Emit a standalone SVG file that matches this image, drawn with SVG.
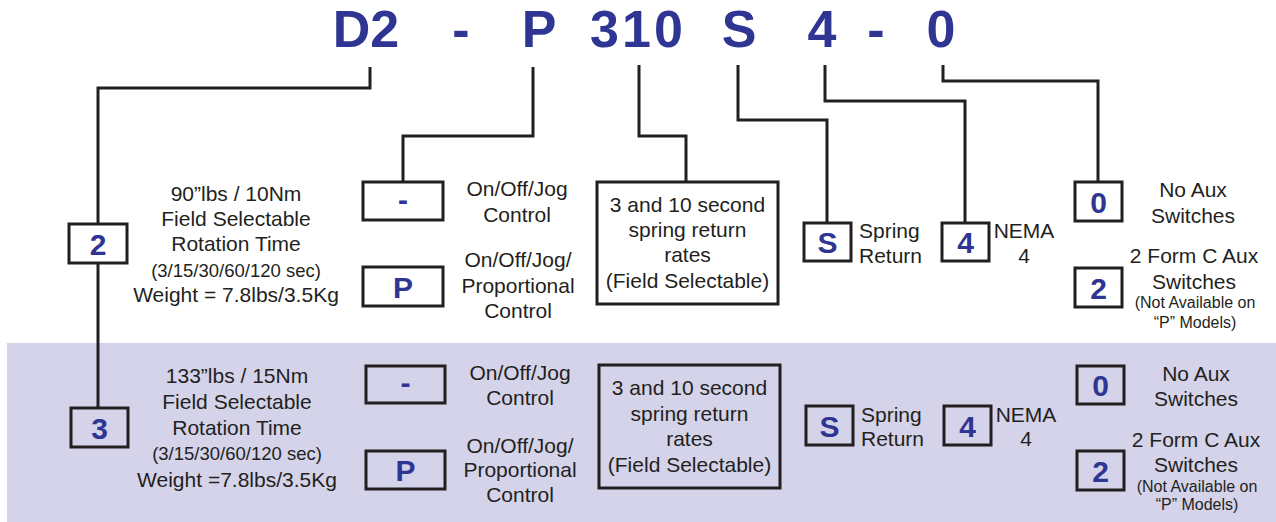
<svg xmlns="http://www.w3.org/2000/svg" width="1276" height="522" viewBox="0 0 1276 522">
<style>
.t{font-family:"Liberation Sans",Arial,sans-serif;font-size:21px;fill:#231f20;text-anchor:middle}
.s{font-size:18.5px}
.xs{font-size:16px}
.l{text-anchor:start}
.b{font-family:"Liberation Sans",Arial,sans-serif;font-weight:bold;font-size:30px;fill:#2e3592;text-anchor:middle}
.title{font-family:"Liberation Sans",Arial,sans-serif;font-weight:bold;font-size:52px;fill:#2e3592;text-anchor:middle}
.box{fill:none;stroke:#231f20;stroke-width:3}
.c{fill:none;stroke:#231f20;stroke-width:3}
</style>
<rect x="7" y="343" width="1269" height="179" fill="#d4d3e9"/>
<g id="title">
<text class="title" x="366" y="47">D2</text>
<text class="title" x="461" y="47">-</text>
<text class="title" x="539" y="47">P</text>
<text class="title" x="638" y="47" letter-spacing="3">310</text>
<text class="title" x="739" y="47">S</text>
<text class="title" x="822" y="47">4</text>
<text class="title" x="876" y="47">-</text>
<text class="title" x="941" y="47">0</text>
</g>
<g id="connectors">
<path class="c" d="M370,67 V88 H98 V224"/>
<path class="c" d="M98,263 V408"/>
<path class="c" d="M533,67 V136 H403 V182"/>
<path class="c" d="M639,65 V136 H686 V182"/>
<path class="c" d="M738,65 V120 H827 V223"/>
<path class="c" d="M825,65 V101 H965 V223"/>
<path class="c" d="M943,65 V81 H1098 V182"/>
</g>
<g id="size2">
<rect class="box" x="69" y="224" width="58" height="39"/>
<text class="b" x="98" y="254.5">2</text>
<text class="t" x="236" y="200.5">90”lbs / 10Nm</text>
<text class="t" x="236" y="226">Field Selectable</text>
<text class="t" x="236" y="251">Rotation Time</text>
<text class="t s" x="236" y="276.5">(3/15/30/60/120 sec)</text>
<text class="t" x="236" y="302">Weight = 7.8lbs/3.5Kg</text>
</g>
<g id="ctrl-dash-top">
<rect class="box" x="363" y="182" width="80" height="38"/>
<text class="b" x="403" y="210">-</text>
<text class="t" x="517" y="196">On/Off/Jog</text>
<text class="t" x="517" y="222">Control</text>
</g>
<g id="ctrl-p-top">
<rect class="box" x="363" y="267" width="80" height="39"/>
<text class="b" x="403" y="297.5">P</text>
<text class="t" x="518" y="267">On/Off/Jog/</text>
<text class="t" x="518" y="293">Proportional</text>
<text class="t" x="518" y="318">Control</text>
</g>
<g id="rates-top">
<rect class="box" x="597" y="182" width="181" height="122"/>
<text class="t" x="687.5" y="212">3 and 10 second</text>
<text class="t" x="687.5" y="237">spring return</text>
<text class="t" x="687.5" y="262">rates</text>
<text class="t" x="687.5" y="288">(Field Selectable)</text>
</g>
<g id="spring-top">
<rect class="box" x="804" y="223" width="47" height="38"/>
<text class="b" x="827.5" y="253">S</text>
<text class="t l" x="859" y="238">Spring</text>
<text class="t l" x="859" y="263">Return</text>
</g>
<g id="nema-top">
<rect class="box" x="942" y="223" width="47" height="38"/>
<text class="b" x="965.5" y="253">4</text>
<text class="t" x="1024" y="238">NEMA</text>
<text class="t" x="1024" y="263">4</text>
</g>
<g id="aux0-top">
<rect class="box" x="1075" y="182" width="47" height="39"/>
<text class="b" x="1098.5" y="212.5">0</text>
<text class="t" x="1193" y="197">No Aux</text>
<text class="t" x="1193" y="223">Switches</text>
</g>
<g id="aux2-top">
<rect class="box" x="1075" y="268" width="47" height="39"/>
<text class="b" x="1098.5" y="298.5">2</text>
<text class="t" x="1194" y="263">2 Form C Aux</text>
<text class="t" x="1194" y="289">Switches</text>
<text class="t xs" x="1195" y="308">(Not Available on</text>
<text class="t xs" x="1195" y="328">“P” Models)</text>
</g>
<g id="size3">
<rect class="box" x="71" y="408" width="57" height="39"/>
<text class="b" x="99.5" y="438.5">3</text>
<text class="t" x="237" y="383">133”lbs / 15Nm</text>
<text class="t" x="237" y="409">Field Selectable</text>
<text class="t" x="237" y="435">Rotation Time</text>
<text class="t s" x="237" y="460">(3/15/30/60/120 sec)</text>
<text class="t" x="237" y="487">Weight =7.8lbs/3.5Kg</text>
</g>
<g id="ctrl-dash-bottom">
<rect class="box" x="366" y="366" width="79" height="37"/>
<text class="b" x="405.5" y="393">-</text>
<text class="t" x="520" y="380">On/Off/Jog</text>
<text class="t" x="520" y="405">Control</text>
</g>
<g id="ctrl-p-bottom">
<rect class="box" x="366" y="451" width="79" height="38"/>
<text class="b" x="405.5" y="481">P</text>
<text class="t" x="520" y="453">On/Off/Jog/</text>
<text class="t" x="520" y="477">Proportional</text>
<text class="t" x="520" y="502">Control</text>
</g>
<g id="rates-bottom">
<rect class="box" x="599" y="365" width="181" height="123"/>
<text class="t" x="689.5" y="395">3 and 10 second</text>
<text class="t" x="689.5" y="421">spring return</text>
<text class="t" x="689.5" y="446">rates</text>
<text class="t" x="689.5" y="472">(Field Selectable)</text>
</g>
<g id="spring-bottom">
<rect class="box" x="806" y="406" width="47" height="39"/>
<text class="b" x="829.5" y="436.5">S</text>
<text class="t l" x="861" y="422">Spring</text>
<text class="t l" x="861" y="446">Return</text>
</g>
<g id="nema-bottom">
<rect class="box" x="944" y="406" width="47" height="39"/>
<text class="b" x="967.5" y="436.5">4</text>
<text class="t" x="1026" y="422">NEMA</text>
<text class="t" x="1026" y="446">4</text>
</g>
<g id="aux0-bottom">
<rect class="box" x="1077" y="366" width="47" height="38"/>
<text class="b" x="1100.5" y="396">0</text>
<text class="t" x="1196" y="381">No Aux</text>
<text class="t" x="1196" y="406">Switches</text>
</g>
<g id="aux2-bottom">
<rect class="box" x="1077" y="451" width="47" height="39"/>
<text class="b" x="1100.5" y="481.5">2</text>
<text class="t" x="1196" y="447">2 Form C Aux</text>
<text class="t" x="1196" y="472">Switches</text>
<text class="t xs" x="1197" y="492">(Not Available on</text>
<text class="t xs" x="1197" y="510">“P” Models)</text>
</g>
</svg>
